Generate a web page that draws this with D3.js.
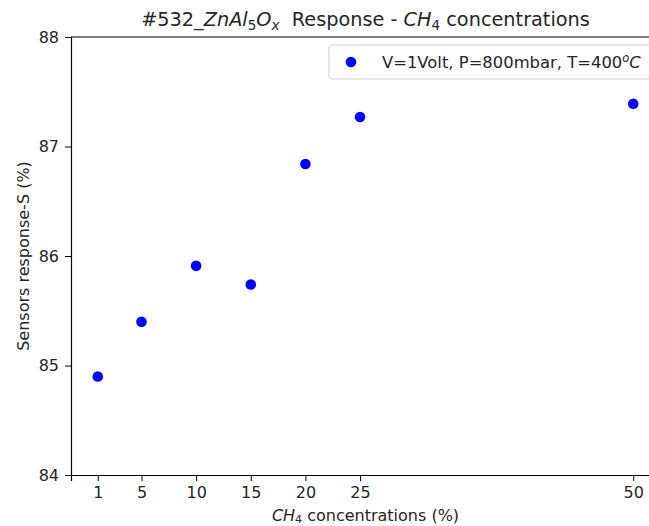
<!DOCTYPE html>
<html>
<head>
<meta charset="utf-8">
<script src="https://cdn.jsdelivr.net/npm/d3@7"></script>
<style>
  body { margin: 0; background: #fff; }
  svg text { font-family: "DejaVu Sans", sans-serif; fill: #262626; }
</style>
</head>
<body>
<svg id="chart" width="649" height="526"></svg>
<script>
// data
var concentrations = [1, 5, 10, 15, 20, 25, 50];
var responses = [84.9, 85.4, 85.91, 85.74, 86.84, 87.27, 87.39];
var xTicks = [1, 5, 10, 15, 20, 25, 50];
var yTicks = [84, 85, 86, 87, 88];
var legendLabel = "V=1Volt, P=800mbar, T=400";

var svg = d3.select("#chart"),
  margin = { top: 37, left: 71, bottom: 51 },
  plotRight = 660,
  height = +svg.attr("height");

var x = d3.scaleLinear().domain([-1.45, 52.45]).range([margin.left, plotRight]);
var y = d3.scaleLinear().domain([84, 88]).range([height - margin.bottom, margin.top]);

// x axis
var xAxis = svg.append("g")
  .attr("transform", "translate(0," + (height - margin.bottom) + ")")
  .call(d3.axisBottom(x).tickValues(xTicks).tickFormat(d3.format("d")).tickSize(6).tickPadding(6));
xAxis.selectAll("text").style("font-size", "16px");

// y axis
var yAxis = svg.append("g")
  .attr("transform", "translate(" + margin.left + ",0)")
  .call(d3.axisLeft(y).tickValues(yTicks).tickFormat(d3.format("d")).tickSize(6).tickPadding(6));
yAxis.selectAll("text").style("font-size", "16px");

svg.selectAll(".domain").attr("stroke", "#000").attr("stroke-width", 1.2);
svg.selectAll(".tick line").attr("stroke", "#000");

// top spine
svg.append("line")
  .attr("x1", margin.left).attr("x2", plotRight)
  .attr("y1", margin.top).attr("y2", margin.top)
  .attr("stroke", "#000").attr("stroke-width", 1.2);
// right spine
svg.append("line")
  .attr("x1", plotRight).attr("x2", plotRight)
  .attr("y1", margin.top).attr("y2", height - margin.bottom)
  .attr("stroke", "#000").attr("stroke-width", 1.2);

// points
svg.append("g")
  .selectAll("circle")
  .data(concentrations.map((c, i) => ({ c: c, r: responses[i] })))
  .enter()
  .append("circle")
  .attr("cx", d => x(d.c))
  .attr("cy", d => y(d.r))
  .attr("r", 5.3)
  .attr("fill", "#0000ff");

// title
var title = svg.append("text")
  .attr("x", (margin.left + plotRight) / 2).attr("y", 26)
  .attr("text-anchor", "middle")
  .style("font-size", "19.3px");
title.append("tspan").text("#532_");
title.append("tspan").style("font-style", "italic").text("ZnAl");
title.append("tspan").attr("dy", 4).style("font-size", "13.5px").text("5");
title.append("tspan").attr("dy", -4).style("font-style", "italic").text("O");
title.append("tspan").attr("dy", 4).style("font-size", "13.5px").style("font-style", "italic").text("x");
title.append("tspan").attr("dy", -4).text("\u00a0\u00a0Response - ");
title.append("tspan").style("font-style", "italic").text("CH");
title.append("tspan").attr("dy", 4).style("font-size", "13.5px").text("4");
title.append("tspan").attr("dy", -4).text(" concentrations");

// x label
var xl = svg.append("text")
  .attr("x", (margin.left + plotRight) / 2).attr("y", 521)
  .attr("text-anchor", "middle")
  .style("font-size", "16px");
xl.append("tspan").style("font-style", "italic").text("CH");
xl.append("tspan").attr("dy", 2).style("font-size", "11px").text("4");
xl.append("tspan").attr("dy", -2).text(" concentrations (%)");

// y label
svg.append("text")
  .attr("transform", "translate(29," + y(86) + ") rotate(-90)")
  .attr("text-anchor", "middle")
  .style("font-size", "16px")
  .text("Sensors response-S (%)");

// legend
var lg = svg.append("g");
lg.append("rect")
  .attr("x", 329).attr("y", 45)
  .attr("width", 340).attr("height", 34)
  .attr("rx", 3)
  .attr("fill", "#fff").attr("stroke", "#d0d0d0");
lg.append("circle")
  .attr("cx", 351).attr("cy", 62).attr("r", 5.3)
  .attr("fill", "#0000ff");
var lt = lg.append("text")
  .attr("x", 382).attr("y", 68)
  .style("font-size", "16.4px");
lt.append("tspan").text(legendLabel);
lt.append("tspan").attr("dy", -6).style("font-size", "11.5px").style("font-style", "italic").text("o");
lt.append("tspan").attr("dy", 6).style("font-style", "italic").text("C");
</script>
</body>
</html>
